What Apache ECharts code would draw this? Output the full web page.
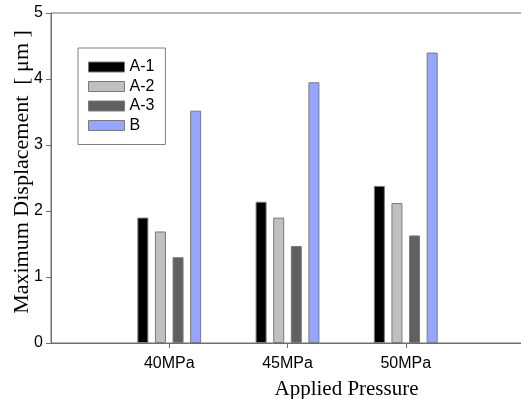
<!DOCTYPE html>
<html>
<head>
<meta charset="utf-8">
<script src="https://cdn.jsdelivr.net/npm/echarts@6/dist/echarts.min.js"></script>
<style>
  html, body { margin: 0; padding: 0; background: #fff; }
  #chart { width: 521px; height: 399px; }
</style>
</head>
<body>
<div id="chart"></div>
<script>
// categories (empty slots at both ends give the wide margins)
const categories = ['', '40MPa', '45MPa', '50MPa', '']
const seriesNames = ['A-1', 'A-2', 'A-3', 'B']
const a1 = [null, 1.90, 2.14, 2.38, null]
const a2 = [null, 1.69, 1.90, 2.12, null]
const a3 = [null, 1.30, 1.47, 1.63, null]
const b = [null, 3.52, 3.95, 4.40, null]
const yTicks = [0, 1, 2, 3, 4, 5]

const colors = ['#000000', '#c0c0c0', '#606060', '#94a6ff']
const axisColor = '#6e6e6e'

const chart = echarts.init(document.getElementById('chart'))

const makeBar = (name, data, i) => ({
  name: name,
  type: 'bar',
  data: data,
  barWidth: 11,
  barGap: '60%',
  itemStyle: {
    color: colors[i],
    borderColor: '#7a7a7a',
    borderWidth: 1
  }
})

chart.setOption({
  animation: false,
  color: colors,
  grid: {
    left: 51,
    right: -3,
    top: 13,
    bottom: 56,
    outerBoundsMode: 'none',
    containLabel: false,
    show: true,
    borderColor: axisColor,
    borderWidth: 1
  },
  legend: {
    orient: 'vertical',
    left: 78,
    top: 48,
    data: seriesNames,
    icon: 'rect',
    itemWidth: 36,
    itemHeight: 10,
    itemGap: 3.5,
    padding: [11, 11, 11, 10],
    borderColor: '#808080',
    borderWidth: 1,
    backgroundColor: '#fff',
    textStyle: {
      fontFamily: 'Liberation Sans',
      fontSize: 16,
      color: '#000'
    },
    itemStyle: { borderColor: '#7a7a7a', borderWidth: 1 }
  },
  xAxis: {
    type: 'category',
    data: categories,
    boundaryGap: false,
    name: 'Applied Pressure',
    nameLocation: 'middle',
    nameGap: 36,
    nameMoveOverlap: false,
    nameTextStyle: {
      fontFamily: 'Liberation Serif',
      fontSize: 21,
      color: '#000',
      padding: [0, 0, 0, 118]
    },
    axisLine: { lineStyle: { color: axisColor, width: 1 } },
    axisTick: {
      inside: false,
      length: 5,
      alignWithLabel: true,
      interval: (index) => index > 0 && index < categories.length - 1,
      lineStyle: { color: axisColor }
    },
    axisLabel: {
      interval: 0,
      margin: 13,
      fontFamily: 'Liberation Sans',
      fontSize: 16,
      color: '#000'
    },
    splitLine: { show: false }
  },
  yAxis: {
    type: 'value',
    min: yTicks[0],
    max: yTicks[yTicks.length - 1],
    interval: 1,
    name: 'Maximum Displacement  [ μm ]',
    nameLocation: 'middle',
    nameGap: 18,
    nameMoveOverlap: false,
    nameTextStyle: {
      fontFamily: 'Liberation Serif',
      fontSize: 22,
      color: '#000',
      padding: [0, 0, 0, 12]
    },
    axisLine: { show: true, lineStyle: { color: axisColor, width: 1 } },
    axisTick: { show: true, length: 5, lineStyle: { color: axisColor } },
    axisLabel: {
      margin: 8,
      fontFamily: 'Liberation Sans',
      fontSize: 16,
      color: '#000'
    },
    splitLine: { show: false }
  },
  series: [
    makeBar(seriesNames[0], a1, 0),
    makeBar(seriesNames[1], a2, 1),
    makeBar(seriesNames[2], a3, 2),
    makeBar(seriesNames[3], b, 3)
  ]
})

window.onresize = function() {
  chart.resize()
}
</script>
</body>
</html>
